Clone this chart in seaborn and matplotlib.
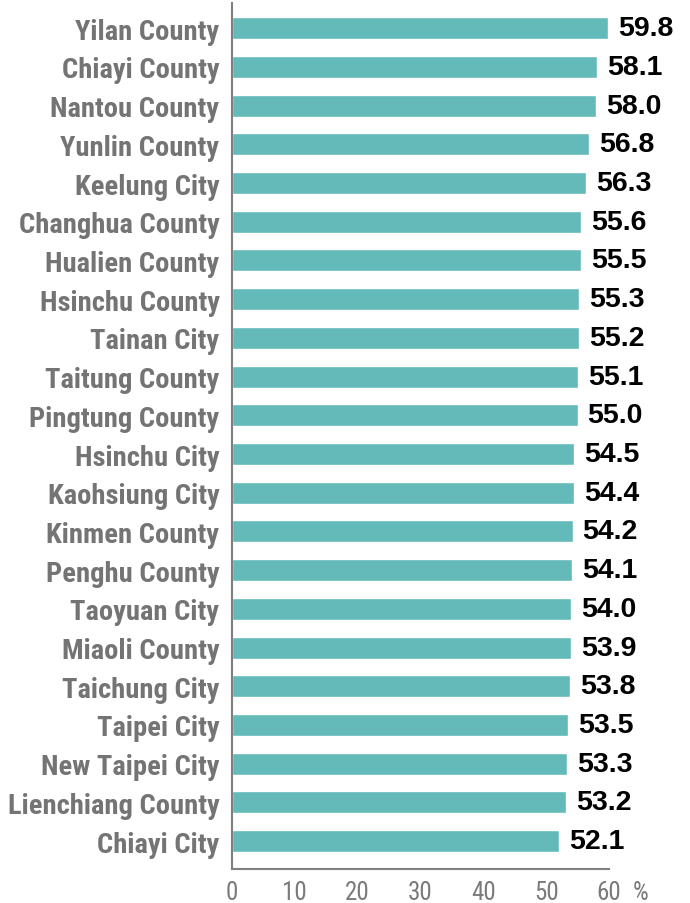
import matplotlib
matplotlib.use("Agg")
import matplotlib.pyplot as plt
import seaborn as sns
import pandas as pd

categories = ["Yilan County", "Chiayi County", "Nantou County", "Yunlin County", "Keelung City",
              "Changhua County", "Hualien County", "Hsinchu County", "Tainan City", "Taitung County",
              "Pingtung County", "Hsinchu City", "Kaohsiung City", "Kinmen County", "Penghu County",
              "Taoyuan City", "Miaoli County", "Taichung City", "Taipei City", "New Taipei City",
              "Lienchiang County", "Chiayi City"]
values = [59.8, 58.1, 58.0, 56.8, 56.3, 55.6, 55.5, 55.3, 55.2, 55.1, 55.0, 54.5, 54.4, 54.2,
          54.1, 54.0, 53.9, 53.8, 53.5, 53.3, 53.2, 52.1]
xticks = [0, 10, 20, 30, 40, 50, 60]

df = pd.DataFrame({"region": categories, "value": values})

sns.set_theme(style="white")
narrow = ["Roboto Condensed", "DejaVu Sans"]
plt.rcParams["font.family"] = narrow

fig = plt.figure(figsize=(6.9, 9.04), dpi=100)
ax = fig.add_axes([232/690, 1 - 870/904, (609 - 232)/690, (870 - 4)/904])

sns.barplot(data=df, y="region", x="value", orient="h", color="#63BAB8",
            width=0.57, saturation=1, ax=ax)

ax.set_xlim(0, 60)
ax.set_ylim(21.72, -0.65)
ax.set_xticks(xticks)
ax.set_xticklabels([str(t) for t in xticks], color="#7a7a7a", fontsize=18, family=narrow)
ax.set_yticklabels(categories, color="#747474", fontsize=20.5, family=narrow,
                   fontweight="bold")
ax.set_xlabel("")
ax.set_ylabel("")
ax.tick_params(axis="x", direction="in", length=9, width=1.2, color="#8a8a8a", pad=8)
ax.tick_params(axis="y", length=0, pad=9)

for s in ["top", "right"]:
    ax.spines[s].set_visible(False)
for s in ["left", "bottom"]:
    ax.spines[s].set_color("#7f7f7f")
    ax.spines[s].set_linewidth(1.5)

for i, v in enumerate(values):
    ax.text(v + 1.6, i, f"{v:.1f}", va="center", ha="left", fontsize=20.5,
            fontweight="bold", color="black", family=["Liberation Sans", "DejaVu Sans"])

ax.annotate("%", xy=(60, 0), xycoords=("data", "axes fraction"), xytext=(17, -8),
            textcoords="offset points", ha="left", va="top", fontsize=18,
            color="#7a7a7a", family=narrow)

fig.savefig("out.png", dpi=100)
